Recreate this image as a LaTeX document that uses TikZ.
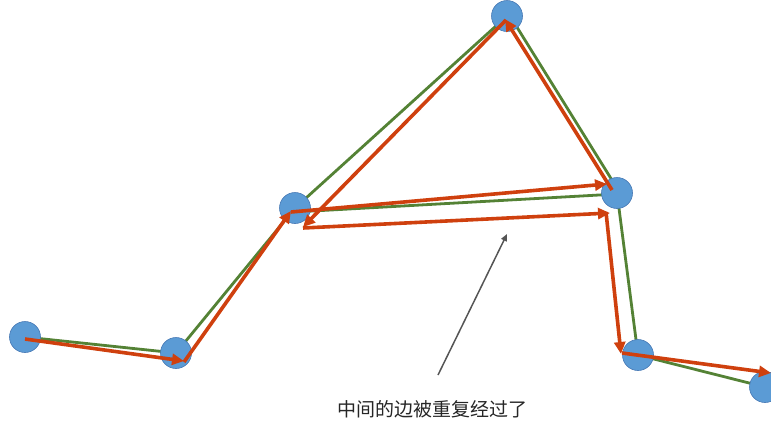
\documentclass[tikz,border=0pt]{standalone}
\usepackage{fontspec}
\newfontfamily\cjk{Noto Sans CJK SC}
\usetikzlibrary{arrows.meta}
\definecolor{dotblue}{RGB}{91,155,213}
\definecolor{dotedge}{RGB}{70,120,180}
\definecolor{edgegreen}{RGB}{84,130,53}
\definecolor{walkred}{RGB}{207,64,14}
\definecolor{notegray}{RGB}{85,85,85}
\tikzset{
  vert/.style={circle,fill=dotblue,draw=dotedge,line width=0.6pt,minimum size=31pt,inner sep=0pt},
  gedge/.style={draw=edgegreen,line width=2.8pt},
  walk/.style={draw=walkred,line width=3.6pt,-{Triangle[length=12pt,width=11pt]}},
  note/.style={draw=notegray,line width=1.5pt,-{Triangle[length=7pt,width=6pt]}},
  label/.style={font=\cjk\fontsize{19}{22}\selectfont,text=black!85,inner sep=0pt}
}
\begin{document}
\begin{tikzpicture}[x=1pt,y=-1pt]
\useasboundingbox (0,0) rectangle (771,429);
% vertex positions
\coordinate (pA) at (25,337);
\coordinate (pB) at (176,353);
\coordinate (pC) at (295,208);
\coordinate (pD) at (507,16);
\coordinate (pE) at (617,193);
\coordinate (pF) at (638,355);
\coordinate (pG) at (765,387);
% green edges (under the vertices)
\draw[gedge] (pA) -- (pB);
\draw[gedge] (pB) -- (pC);
\draw[gedge] (pC) -- (pD);
\draw[gedge] ([xshift=3pt]pD) -- ([xshift=3pt]pE);
\draw[gedge] ([yshift=-4pt]pC) -- ([yshift=-1pt]pE);
\draw[gedge] (pE) -- (pF);
\draw[gedge] (pF) -- (pG);
% vertices
\node[vert] (A) at (pA) {};
\node[vert] (B) at (pB) {};
\node[vert] (C) at (pC) {};
\node[vert] (D) at (pD) {};
\node[vert] (E) at (pE) {};
\node[vert] (F) at (pF) {};
\node[vert] (G) at (pG) {};
% red walk points
\coordinate (r1s) at (25,339);  \coordinate (r1e) at (184,361);
\coordinate (r2s) at (184,362); \coordinate (r2e) at (291,211);
\coordinate (r3s) at (291,212); \coordinate (r3e) at (607,184);
\coordinate (r4s) at (612,190); \coordinate (r4e) at (505,19);
\coordinate (r5s) at (506,20);  \coordinate (r5e) at (303,227);
\coordinate (r6s) at (303,228); \coordinate (r6e) at (610,213);
\coordinate (r7s) at (606,212); \coordinate (r7e) at (621,354);
\coordinate (r8s) at (622,353); \coordinate (r8e) at (771,373);
\draw[walk] (r1s) -- (r1e);
\draw[walk] (r2s) -- (r2e);
\draw[walk] (r3s) -- (r3e);
\draw[walk] (r4s) -- (r4e);
\draw[walk] (r5s) -- (r5e);
\draw[walk] (r6s) -- (r6e);
\draw[walk] (r7s) -- (r7e);
\draw[walk] (r8s) -- (r8e);
% note
\node[label] (txt) at (432,409) {中间的边被重复经过了};
\coordinate (ns) at (438,375);
\coordinate (ne) at (507,234);
\draw[note] (ns) -- (ne);
\end{tikzpicture}
\end{document}
